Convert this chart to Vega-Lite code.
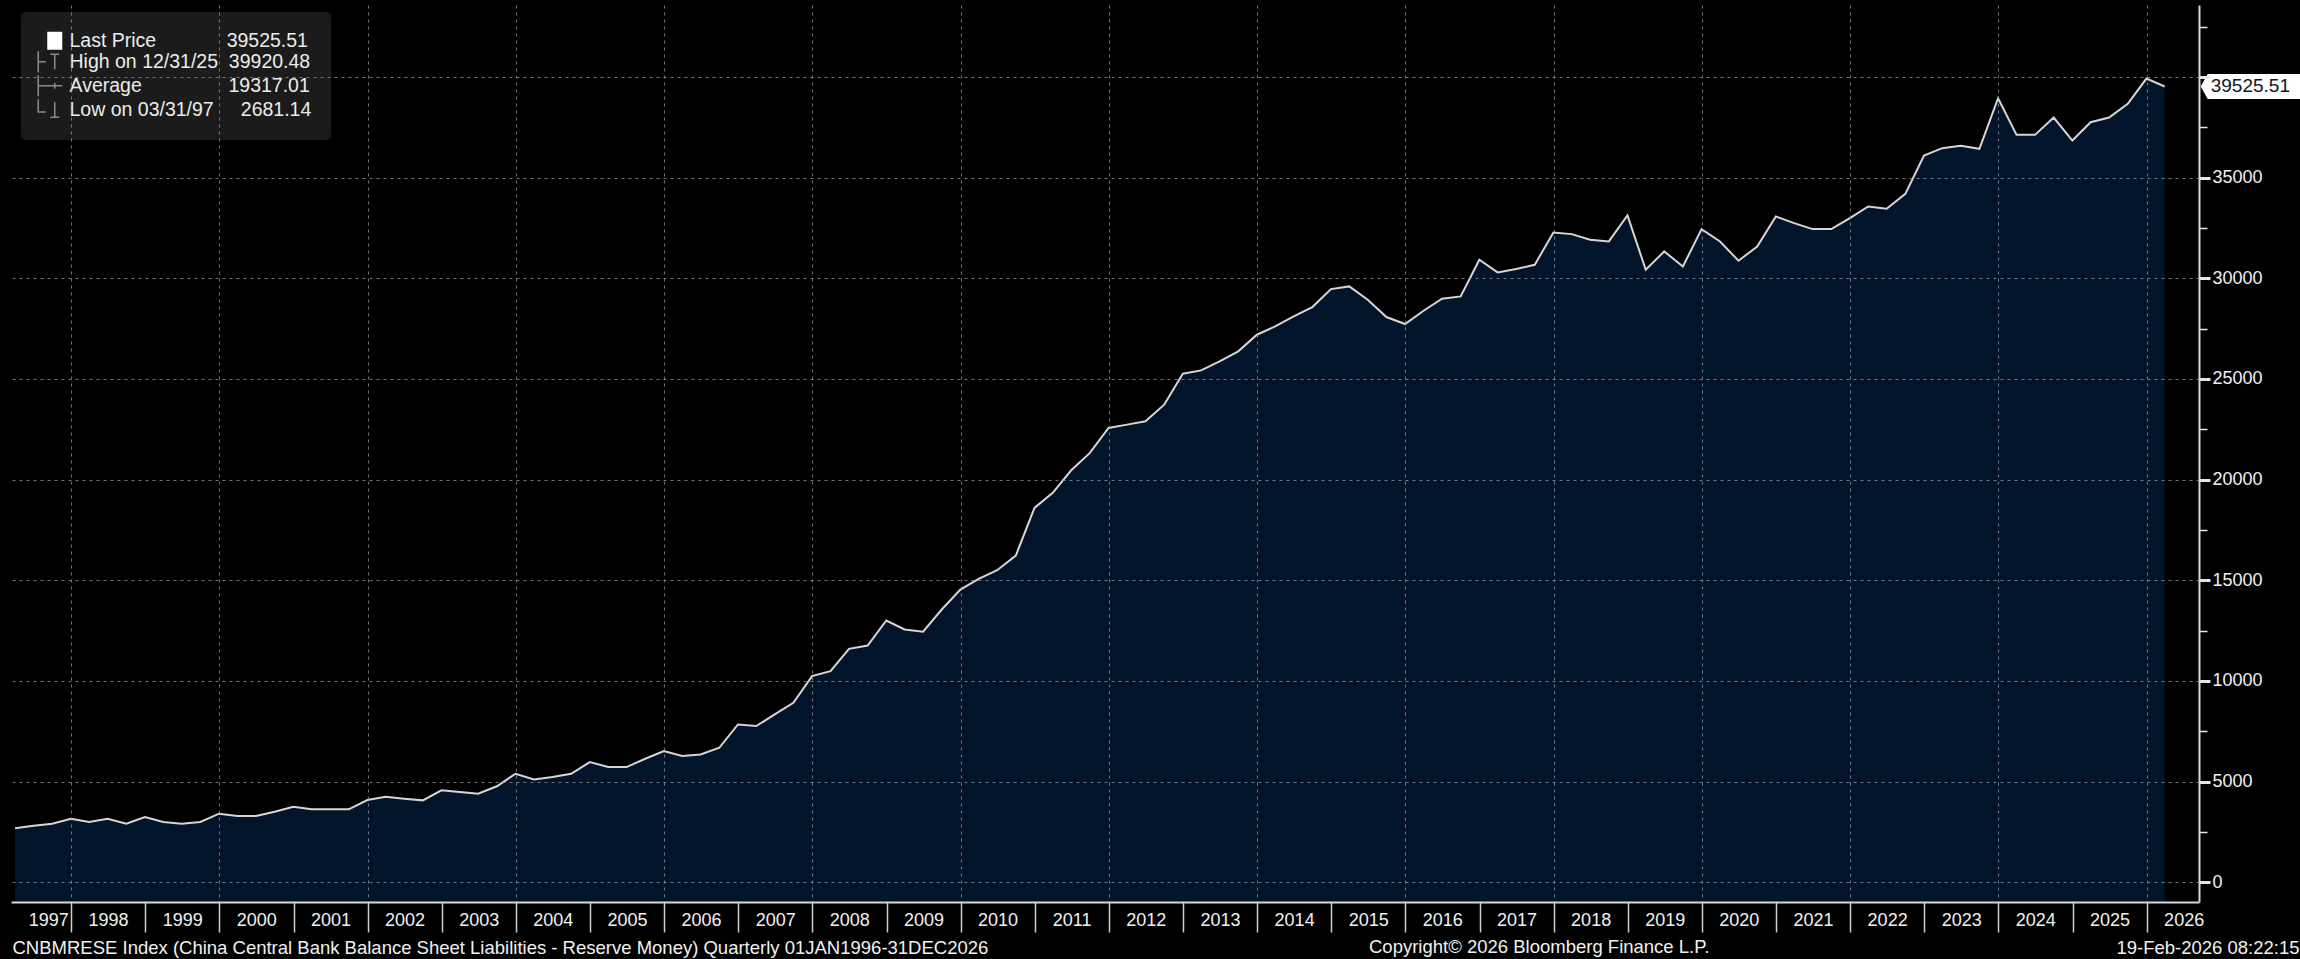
{
  "$schema": "https://vega.github.io/schema/vega-lite/v6.json",
  "width": 2188,
  "height": 897,
  "autosize": {"type": "none"},
  "padding": {"left": 11, "top": 5, "right": 101, "bottom": 57},
  "background": "#000000",
  "config": {"view": {"stroke": null}, "font": "Liberation Sans"},
  "title": {
    "text": "Copyright© 2026 Bloomberg Finance L.P.",
    "orient": "bottom",
    "anchor": "start",
    "frame": "group",
    "dx": 1358,
    "dy": -10,
    "offset": 0,
    "baseline": "middle",
    "color": "#f0f0f0",
    "font": "Liberation Sans",
    "fontSize": 18.5,
    "fontWeight": "normal"
  },
  "datasets": {
    "series": [
      {"date": "1997-03-31", "value": 2681.14},
      {"date": "1997-06-30", "value": 2812},
      {"date": "1997-09-30", "value": 2912},
      {"date": "1997-12-31", "value": 3160},
      {"date": "1998-03-31", "value": 2994},
      {"date": "1998-06-30", "value": 3160},
      {"date": "1998-09-30", "value": 2912},
      {"date": "1998-12-31", "value": 3243},
      {"date": "1999-03-31", "value": 2994},
      {"date": "1999-06-30", "value": 2912},
      {"date": "1999-09-30", "value": 2994},
      {"date": "1999-12-31", "value": 3408},
      {"date": "2000-03-31", "value": 3292},
      {"date": "2000-06-30", "value": 3292},
      {"date": "2000-09-30", "value": 3507},
      {"date": "2000-12-31", "value": 3755},
      {"date": "2001-03-31", "value": 3623},
      {"date": "2001-06-30", "value": 3623},
      {"date": "2001-09-30", "value": 3623},
      {"date": "2001-12-31", "value": 4086},
      {"date": "2002-03-31", "value": 4251},
      {"date": "2002-06-30", "value": 4152},
      {"date": "2002-09-30", "value": 4070},
      {"date": "2002-12-31", "value": 4566},
      {"date": "2003-03-31", "value": 4483},
      {"date": "2003-06-30", "value": 4400},
      {"date": "2003-09-30", "value": 4770},
      {"date": "2003-12-31", "value": 5393},
      {"date": "2004-03-31", "value": 5112},
      {"date": "2004-06-30", "value": 5227},
      {"date": "2004-09-30", "value": 5393},
      {"date": "2004-12-31", "value": 5972},
      {"date": "2005-03-31", "value": 5724},
      {"date": "2005-06-30", "value": 5724},
      {"date": "2005-09-30", "value": 6137},
      {"date": "2005-12-31", "value": 6518},
      {"date": "2006-03-31", "value": 6270},
      {"date": "2006-06-30", "value": 6353},
      {"date": "2006-09-30", "value": 6683},
      {"date": "2006-12-31", "value": 7841},
      {"date": "2007-03-31", "value": 7759},
      {"date": "2007-06-30", "value": 8338},
      {"date": "2007-09-30", "value": 8917},
      {"date": "2007-12-31", "value": 10240},
      {"date": "2008-03-31", "value": 10488},
      {"date": "2008-06-30", "value": 11597},
      {"date": "2008-09-30", "value": 11762},
      {"date": "2008-12-31", "value": 13003},
      {"date": "2009-03-31", "value": 12560},
      {"date": "2009-06-30", "value": 12450},
      {"date": "2009-09-30", "value": 13550},
      {"date": "2009-12-31", "value": 14542},
      {"date": "2010-03-31", "value": 15071},
      {"date": "2010-06-30", "value": 15501},
      {"date": "2010-09-30", "value": 16229},
      {"date": "2010-12-31", "value": 18594},
      {"date": "2011-03-31", "value": 19341},
      {"date": "2011-06-30", "value": 20463},
      {"date": "2011-09-30", "value": 21325},
      {"date": "2011-12-31", "value": 22566},
      {"date": "2012-03-31", "value": 22731},
      {"date": "2012-06-30", "value": 22895},
      {"date": "2012-09-30", "value": 23723},
      {"date": "2012-12-31", "value": 25262},
      {"date": "2013-03-31", "value": 25426},
      {"date": "2013-06-30", "value": 25872},
      {"date": "2013-09-30", "value": 26370},
      {"date": "2013-12-31", "value": 27197},
      {"date": "2014-03-31", "value": 27611},
      {"date": "2014-06-30", "value": 28107},
      {"date": "2014-09-30", "value": 28571},
      {"date": "2014-12-31", "value": 29464},
      {"date": "2015-03-31", "value": 29597},
      {"date": "2015-06-30", "value": 28934},
      {"date": "2015-09-30", "value": 28074},
      {"date": "2015-12-31", "value": 27727},
      {"date": "2016-03-31", "value": 28388},
      {"date": "2016-06-30", "value": 28984},
      {"date": "2016-09-30", "value": 29100},
      {"date": "2016-12-31", "value": 30920},
      {"date": "2017-03-31", "value": 30291},
      {"date": "2017-06-30", "value": 30457},
      {"date": "2017-09-30", "value": 30672},
      {"date": "2017-12-31", "value": 32276},
      {"date": "2018-03-31", "value": 32193},
      {"date": "2018-06-30", "value": 31912},
      {"date": "2018-09-30", "value": 31829},
      {"date": "2018-12-31", "value": 33118},
      {"date": "2019-03-31", "value": 30424},
      {"date": "2019-06-30", "value": 31334},
      {"date": "2019-09-30", "value": 30589},
      {"date": "2019-12-31", "value": 32442},
      {"date": "2020-03-31", "value": 31829},
      {"date": "2020-06-30", "value": 30870},
      {"date": "2020-09-30", "value": 31581},
      {"date": "2020-12-31", "value": 33070},
      {"date": "2021-03-31", "value": 32741},
      {"date": "2021-06-30", "value": 32442},
      {"date": "2021-09-30", "value": 32442},
      {"date": "2021-12-31", "value": 32988},
      {"date": "2022-03-31", "value": 33565},
      {"date": "2022-06-30", "value": 33451},
      {"date": "2022-09-30", "value": 34195},
      {"date": "2022-12-31", "value": 36098},
      {"date": "2023-03-31", "value": 36462},
      {"date": "2023-06-30", "value": 36577},
      {"date": "2023-09-30", "value": 36428},
      {"date": "2023-12-31", "value": 38943},
      {"date": "2024-03-31", "value": 37123},
      {"date": "2024-06-30", "value": 37123},
      {"date": "2024-09-30", "value": 37984},
      {"date": "2024-12-31", "value": 36842},
      {"date": "2025-03-31", "value": 37752},
      {"date": "2025-06-30", "value": 37984},
      {"date": "2025-09-30", "value": 38662},
      {"date": "2025-12-31", "value": 39920.48},
      {"date": "2026-03-31", "value": 39525.51}
    ],
    "stats": [
      {"entry": "Last Price|39525.51"},
      {"entry": "High on 12/31/25|39920.48"},
      {"entry": "Average|19317.01"},
      {"entry": "Low on 03/31/97|2681.14"}
    ]
  },
  "layer": [
    {
      "data": {"name": "series"},
      "mark": {
        "type": "area",
        "color": "#031c3b",
        "line": {"color": "#d6d6d6", "strokeWidth": 2}
      },
      "encoding": {
        "x": {
          "field": "date",
          "type": "temporal",
          "scale": {
            "type": "utc",
            "domain": [
              {"year": 1997, "month": 3, "date": 11, "utc": true},
              {"year": 2026, "month": 9, "date": 16, "utc": true}
            ]
          },
          "axis": {
            "values": [
              {"year": 1997, "month": 3, "date": 12, "utc": true},
              {"year": 1998, "month": 1, "date": 1, "utc": true},
              {"year": 1999, "month": 1, "date": 1, "utc": true},
              {"year": 2000, "month": 1, "date": 1, "utc": true},
              {"year": 2001, "month": 1, "date": 1, "utc": true},
              {"year": 2002, "month": 1, "date": 1, "utc": true},
              {"year": 2003, "month": 1, "date": 1, "utc": true},
              {"year": 2004, "month": 1, "date": 1, "utc": true},
              {"year": 2005, "month": 1, "date": 1, "utc": true},
              {"year": 2006, "month": 1, "date": 1, "utc": true},
              {"year": 2007, "month": 1, "date": 1, "utc": true},
              {"year": 2008, "month": 1, "date": 1, "utc": true},
              {"year": 2009, "month": 1, "date": 1, "utc": true},
              {"year": 2010, "month": 1, "date": 1, "utc": true},
              {"year": 2011, "month": 1, "date": 1, "utc": true},
              {"year": 2012, "month": 1, "date": 1, "utc": true},
              {"year": 2013, "month": 1, "date": 1, "utc": true},
              {"year": 2014, "month": 1, "date": 1, "utc": true},
              {"year": 2015, "month": 1, "date": 1, "utc": true},
              {"year": 2016, "month": 1, "date": 1, "utc": true},
              {"year": 2017, "month": 1, "date": 1, "utc": true},
              {"year": 2018, "month": 1, "date": 1, "utc": true},
              {"year": 2019, "month": 1, "date": 1, "utc": true},
              {"year": 2020, "month": 1, "date": 1, "utc": true},
              {"year": 2021, "month": 1, "date": 1, "utc": true},
              {"year": 2022, "month": 1, "date": 1, "utc": true},
              {"year": 2023, "month": 1, "date": 1, "utc": true},
              {"year": 2024, "month": 1, "date": 1, "utc": true},
              {"year": 2025, "month": 1, "date": 1, "utc": true},
              {"year": 2026, "month": 1, "date": 1, "utc": true}
            ],
            "labelExpr": "utcFormat(datum.value, '%Y')",
            "labelOffset": 37,
            "labelColor": "#f0f0f0",
            "labelFont": "Liberation Sans",
            "labelFontSize": 18,
            "labelBaseline": "middle",
            "labelPadding": -12,
            "labelOverlap": false,
            "labelFlush": false,
            "labelBound": false,
            "tickSize": 30,
            "tickColor": "#cfcfcf",
            "tickWidth": 1.5,
            "tickOpacity": {"condition": {"test": "utcyear(datum.value) === 1997", "value": 0}, "value": 1},
            "domainColor": "#d8d8d8",
            "domainWidth": 2,
            "grid": true,
            "gridColor": "#9a9a9a",
            "gridDash": [3, 4],
            "gridWidth": 1,
            "gridOpacity": {"condition": {"test": "utcyear(datum.value) % 2 === 0", "value": 0.75}, "value": 0},
            "title": "CNBMRESE Index (China Central Bank Balance Sheet Liabilities - Reserve Money) Quarterly 01JAN1996-31DEC2026",
            "titleX": 1,
            "titleY": 45,
            "titleAlign": "left",
            "titleAnchor": null,
            "titleBaseline": "middle",
            "titleColor": "#f0f0f0",
            "titleFont": "Liberation Sans",
            "titleFontSize": 18.5,
            "titleFontWeight": "normal",
            "zindex": 1
          }
        },
        "y": {
          "field": "value",
          "type": "quantitative",
          "scale": {"domain": [-978, 43573], "nice": false, "zero": false},
          "axis": {
            "orient": "right",
            "values": [0, 2500, 5000, 7500, 10000, 12500, 15000, 17500, 20000, 22500, 25000, 27500, 30000, 32500, 35000, 37500, 40000, 42500],
            "format": "d",
            "labelExpr": "datum.value % 5000 === 0 && datum.value < 40000 ? datum.label : ''",
            "labelColor": "#f0f0f0",
            "labelFont": "Liberation Sans",
            "labelFontSize": 18,
            "labelBaseline": "middle",
            "labelPadding": 2,
            "labelOverlap": false,
            "labelBound": false,
            "labelFlush": false,
            "tickSize": {"condition": {"test": "datum.value % 5000 === 0", "value": 11}, "value": 8},
            "tickWidth": {"condition": {"test": "datum.value % 5000 === 0", "value": 3}, "value": 1.5},
            "tickColor": "#e6e6e6",
            "domainColor": "#d8d8d8",
            "domainWidth": 2,
            "grid": true,
            "gridColor": "#9a9a9a",
            "gridDash": [3, 4],
            "gridWidth": 1,
            "gridOpacity": {"condition": {"test": "datum.value % 5000 === 0", "value": 0.75}, "value": 0},
            "title": "19-Feb-2026 08:22:15",
            "titleAngle": 0,
            "titleX": 100,
            "titleY": 942,
            "titleAlign": "right",
            "titleAnchor": null,
            "titleBaseline": "middle",
            "titleColor": "#f0f0f0",
            "titleFont": "Liberation Sans",
            "titleFontSize": 18.5,
            "titleFontWeight": "normal",
            "zindex": 1
          }
        },
        "y2": {"datum": -978}
      }
    },
    {
      "data": {"name": "series"},
      "transform": [{"filter": "datum.value === 39525.51"}],
      "mark": {
        "type": "point",
        "shape": "M1.8,0L2.15,-0.62L6.9,-0.62L6.9,0.62L2.15,0.62Z",
        "size": 1600,
        "filled": true,
        "fill": "#ffffff",
        "strokeWidth": 0,
        "opacity": 1
      },
      "encoding": {
        "x": {"field": "date", "type": "temporal"},
        "y": {"field": "value", "type": "quantitative"}
      }
    },
    {
      "data": {"name": "series"},
      "transform": [{"filter": "datum.value === 39525.51"}],
      "mark": {
        "type": "text",
        "align": "left",
        "baseline": "middle",
        "dx": 46,
        "font": "Liberation Sans",
        "fontSize": 19,
        "color": "#0d1726"
      },
      "encoding": {
        "x": {"field": "date", "type": "temporal"},
        "y": {"field": "value", "type": "quantitative"},
        "text": {"field": "value", "type": "quantitative", "format": ".2f"}
      }
    },
    {
      "data": {"name": "stats"},
      "mark": {"type": "point", "opacity": 0, "filled": false},
      "encoding": {
        "color": {
          "field": "entry",
          "type": "nominal",
          "scale": {
            "domain": ["Last Price|39525.51", "High on 12/31/25|39920.48", "Average|19317.01", "Low on 03/31/97|2681.14"],
            "range": ["#ffffff", "#8c8c8c", "#8c8c8c", "#8c8c8c"]
          }
        },
        "shape": {
          "field": "entry",
          "type": "nominal",
          "scale": {
            "domain": ["Last Price|39525.51", "High on 12/31/25|39920.48", "Average|19317.01", "Low on 03/31/97|2681.14"],
            "range": [
              "M-1,-1.1H1M-1,-0.9H1M-1,-0.7H1M-1,-0.5H1M-1,-0.3H1M-1,-0.1H1M-1,0.1H1M-1,0.3H1M-1,0.5H1M-1,0.7H1M-1,0.9H1M-1,1.1H1",
              "M-0.6,-1H0.6M0,-1V1M-2.2,-1.4V1.4M-2.2,0H-1.2",
              "M-2.2,-1.4V1.4M-2.2,0H1M0,-0.4V0.4",
              "M0,-1V1M-0.6,1H0.6M-2.2,-1.4V0.3H-1.2"
            ]
          },
          "legend": {
            "orient": "none",
            "legendX": 10,
            "legendY": 7,
            "title": null,
            "columns": 1,
            "rowPadding": -4.5,
            "padding": 19,
            "fillColor": "#1b1b1b",
            "cornerRadius": 6,
            "labelColor": "#ececec",
            "labelFont": "Liberation Sans",
            "labelFontSize": 19.5,
            "labelLimit": 500,
            "labelOffset": 5,
            "symbolOffset": 5,
            "symbolSize": 225,
            "symbolOpacity": 1,
            "symbolStrokeWidth": 1.5,
            "labelExpr": "replace(datum.label, '|', indexof(datum.label, 'Last') === 0 ? '\u00a0\u00a0\u00a0\u00a0\u00a0\u00a0\u00a0\u00a0\u00a0\u00a0\u00a0\u00a0\u00a0' : indexof(datum.label, 'High') === 0 ? '\u00a0\u00a0' : indexof(datum.label, 'Average') === 0 ? '\u00a0\u00a0\u00a0\u00a0\u00a0\u00a0\u00a0\u00a0\u00a0\u00a0\u00a0\u00a0\u00a0\u00a0\u00a0\u00a0' : '\u00a0\u00a0\u00a0\u00a0\u00a0')"
          }
        }
      }
    }
  ]
}
